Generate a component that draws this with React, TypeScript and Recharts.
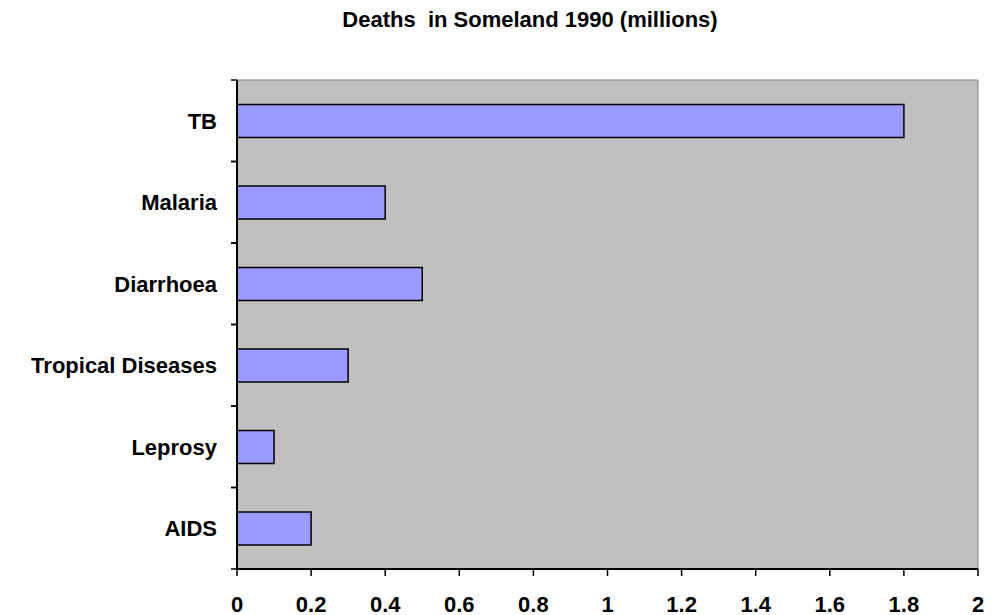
import { BarChart, Bar, XAxis, YAxis, ReferenceArea } from 'recharts';

const causes = ['TB', 'Malaria', 'Diarrhoea', 'Tropical Diseases', 'Leprosy', 'AIDS'];
const deaths = [1.8, 0.4, 0.5, 0.3, 0.1, 0.2];
const xTicks = [0, 0.2, 0.4, 0.6, 0.8, 1, 1.2, 1.4, 1.6, 1.8, 2];

const WIDTH = 997;
const HEIGHT = 615;
const PLOT_LEFT = 237;
const PLOT_TOP = 80;
const PLOT_BOTTOM = 569;
const BAND = (PLOT_BOTTOM - PLOT_TOP) / causes.length;
const FONT = '"Liberation Sans", Arial, sans-serif';

const chartData = causes.map((name, i) => ({ name, value: deaths[i] }));

function CategoryTick({ x, y, payload }: { x?: number; y?: number; payload?: { value: string } }) {
  const cy = y ?? 0;
  return (
    <g>
      <line x1={PLOT_LEFT - 6} x2={PLOT_LEFT} y1={cy - BAND / 2} y2={cy - BAND / 2} stroke="#000" strokeWidth={1.5} />
      <line x1={PLOT_LEFT - 6} x2={PLOT_LEFT} y1={cy + BAND / 2} y2={cy + BAND / 2} stroke="#000" strokeWidth={1.5} />
      <text
        x={x}
        y={cy}
        dy="0.355em"
        textAnchor="end"
        fill="#000"
        style={{ fontFamily: FONT, fontSize: 22, fontWeight: 'bold' }}
      >
        {payload?.value}
      </text>
    </g>
  );
}

export default function App() {
  return (
    <div style={{ position: 'absolute', left: 0, top: 0, width: WIDTH, height: HEIGHT, background: '#fff' }}>
      <div
        style={{
          position: 'absolute',
          left: 0,
          top: 7,
          width: 1060,
          textAlign: 'center',
          fontFamily: FONT,
          fontSize: 22,
          fontWeight: 'bold',
          whiteSpace: 'pre',
          color: '#000',
        }}
      >
        {'Deaths  in Someland 1990 (millions)'}
      </div>
      <BarChart
        width={WIDTH}
        height={HEIGHT}
        data={chartData}
        layout="vertical"
        margin={{ top: PLOT_TOP, right: WIDTH - 978, left: 0, bottom: 0 }}
        barCategoryGap="30%"
      >
        <ReferenceArea x1={0} x2={2} fill="#C0C0C0" fillOpacity={1} stroke="#808080" strokeWidth={1} />
        <XAxis
          type="number"
          domain={[0, 2]}
          ticks={xTicks}
          tickSize={7}
          tickMargin={20}
          height={HEIGHT - PLOT_BOTTOM}
          axisLine={{ stroke: '#000', strokeWidth: 2 }}
          tickLine={{ stroke: '#000', strokeWidth: 1.5 }}
          tick={{ fill: '#000', fontSize: 22, fontWeight: 'bold', fontFamily: FONT }}
        />
        <YAxis
          type="category"
          dataKey="name"
          width={PLOT_LEFT}
          tickSize={6}
          tickMargin={14}
          tickLine={false}
          axisLine={{ stroke: '#000', strokeWidth: 2 }}
          tick={<CategoryTick />}
        />
        <Bar dataKey="value" fill="#9999FF" stroke="#000" strokeWidth={1.5} isAnimationActive={false} />
      </BarChart>
    </div>
  );
}
